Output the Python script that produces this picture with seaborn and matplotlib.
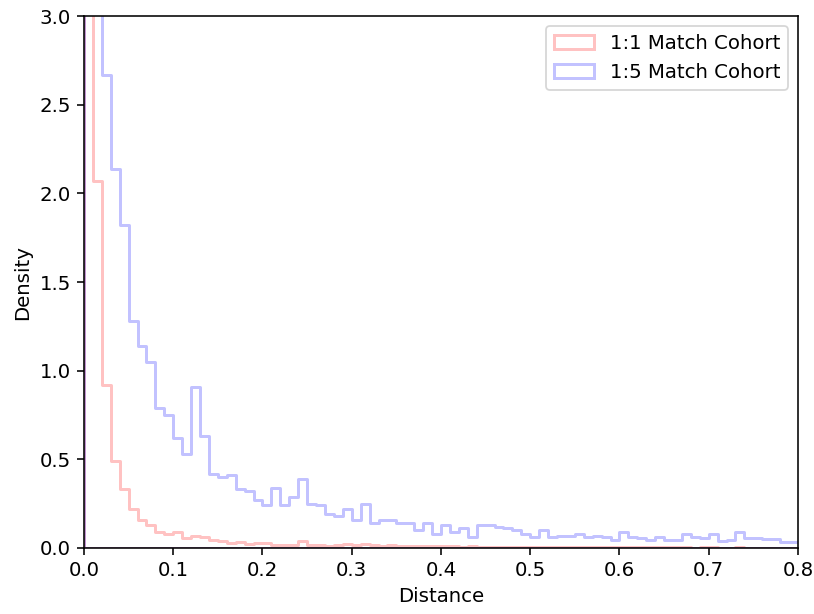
import numpy as np
import pandas as pd
import matplotlib
matplotlib.use("Agg")
import matplotlib.pyplot as plt
import seaborn as sns
from matplotlib.colors import to_rgba

# density per 0.01-wide distance bin
bin_width = 0.01

density_1to1 = [
    94.0, 2.07, 0.92, 0.49, 0.33, 0.22, 0.16, 0.13, 0.09, 0.08,
    0.09, 0.055, 0.07, 0.06, 0.045, 0.04, 0.026, 0.036, 0.02, 0.026,
    0.026, 0.018, 0.018, 0.017, 0.039, 0.015, 0.016, 0.014, 0.015, 0.024,
    0.015, 0.022, 0.015, 0.014, 0.015, 0.013, 0.014, 0.012, 0.011, 0.012,
    0.009, 0.010, 0.008, 0.009, 0.008, 0.007, 0.008, 0.007, 0.006, 0.007,
    0.006, 0.006, 0.005, 0.006, 0.005, 0.005, 0.004, 0.005, 0.004, 0.004,
    0.004, 0.003, 0.004, 0.003, 0.003, 0.004, 0.003, 0.003, 0.002, 0.003,
    0.003, 0.002, 0.002, 0.003, 0.002, 0.002, 0.002, 0.002, 0.002, 0.002,
    0.002, 0.002,
]

density_1to5 = [
    55.0, 14.0, 2.67, 2.14, 1.82, 1.28, 1.14, 1.05, 0.79, 0.75,
    0.62, 0.53, 0.91, 0.63, 0.42, 0.40, 0.41, 0.33, 0.32, 0.27,
    0.24, 0.34, 0.24, 0.29, 0.39, 0.25, 0.24, 0.19, 0.18, 0.22,
    0.16, 0.25, 0.14, 0.16, 0.16, 0.14, 0.14, 0.10, 0.14, 0.08,
    0.13, 0.09, 0.11, 0.06, 0.13, 0.13, 0.12, 0.11, 0.10, 0.08,
    0.06, 0.10, 0.06, 0.07, 0.07, 0.08, 0.06, 0.065, 0.06, 0.045,
    0.09, 0.06, 0.055, 0.045, 0.06, 0.045, 0.045, 0.077, 0.06, 0.058,
    0.077, 0.04, 0.045, 0.09, 0.055, 0.055, 0.05, 0.05, 0.036, 0.036,
    0.04, 0.03,
]

labels = ["1:1 Match Cohort", "1:5 Match Cohort"]
colors = ["red", "blue"]

plt.rcParams["font.size"] = 11.2
plt.rcParams["xtick.major.size"] = 3.9
plt.rcParams["ytick.major.size"] = 3.9
plt.rcParams["xtick.major.width"] = 0.9
plt.rcParams["ytick.major.width"] = 0.9
plt.rcParams["axes.linewidth"] = 0.9

fig = plt.figure(figsize=(814 / 127, 614 / 127), dpi=127)
ax = fig.add_axes([0.1032, 0.1075, 0.8771, 0.8664])

for dens, lab, col in zip([density_1to1, density_1to5], labels, colors):
    n = len(dens)
    edges = (np.arange(n + 1) * bin_width).tolist()
    df = pd.DataFrame({
        "dist": np.array(edges[:-1]) + bin_width / 2,
        "dens": dens,
    })
    sns.histplot(data=df, x="dist", weights="dens", bins=edges, stat="count",
                 element="step", fill=True, color=col, facecolor="none",
                 edgecolor=to_rgba(col, 0.24), linewidth=1.7,
                 label=lab, ax=ax)

ax.set_xlim(0, 0.8)
ax.set_ylim(0, 3.0)
ax.set_xlabel("Distance")
ax.set_ylabel("Density")
ax.legend(loc="upper right")

plt.savefig("out.png", dpi=127)
plt.close()
